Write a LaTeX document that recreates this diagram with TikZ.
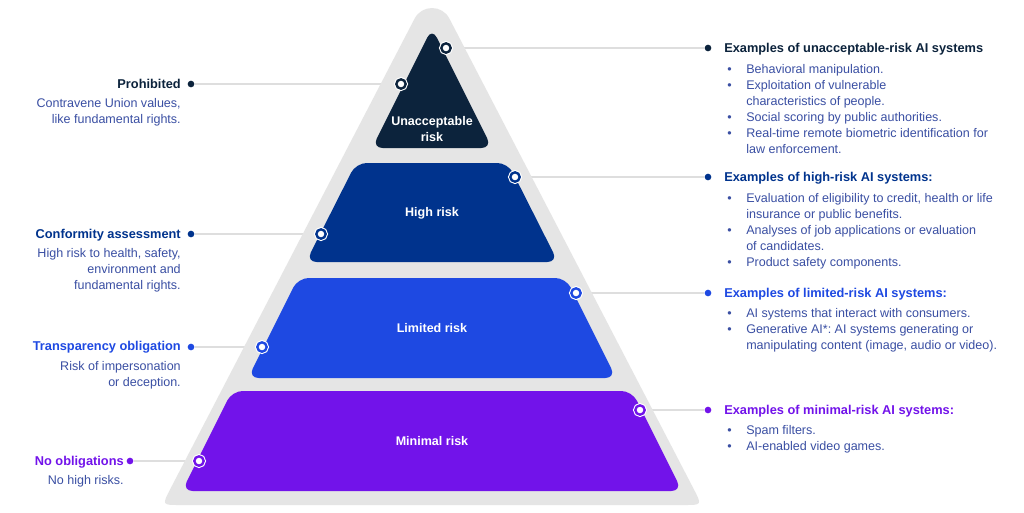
\documentclass[tikz,border=0pt]{standalone}
\usepackage{fontspec}
\setmainfont{Liberation Sans}
\frenchspacing
\pgfdeclarelayer{connl}
\pgfdeclarelayer{shapes}
\pgfsetlayers{connl,shapes,main}
\definecolor{cnavy}{HTML}{0C233C}
\definecolor{cblue}{HTML}{00338D}
\definecolor{clight}{HTML}{1E49E2}
\definecolor{cpurple}{HTML}{7213EA}
\definecolor{cgray}{HTML}{E5E5E5}
\definecolor{cline}{HTML}{DEDEDE}
\definecolor{cbody}{HTML}{3A4FA3}
\begin{document}
\begin{tikzpicture}[x=0.75pt,y=-0.75pt,
  ttl/.style={inner sep=0pt, font=\fontsize{9.6}{12}\selectfont\bfseries, text=#1},
  bdy/.style={inner sep=0pt, font=\fontsize{9.4}{12}\selectfont, text=cbody},
  dotn/.style={circle, inner sep=0pt, minimum size=5pt, fill=#1},
  markr/.style={circle, inner sep=0pt, minimum size=7pt, fill=white, draw=#1, line width=1.8pt, preaction={draw=white, line width=3.4pt}},
  conn/.style={draw=cline, line width=1pt},
  tierlbl/.style={inner sep=0pt, text=white, font=\fontsize{9.4}{12}\selectfont\bfseries, align=center},
  tier/.style={rounded corners=8pt}]
\useasboundingbox (0,0) rectangle (1024,512);
\begin{pgfonlayer}{connl}
\fill[white] (0,0) rectangle (1024,512);
\end{pgfonlayer}

% pyramid
\begin{pgfonlayer}{shapes}
\fill[cgray] (414.6,18.6) .. controls (421.9,4.5) and (442.1,4.5) .. (449.4,18.6)
  -- (693.7,489) .. controls (702,505) .. (684,505)
  -- (180,505) .. controls (162,505) .. (170.3,489) -- cycle;
\fill[cnavy, tier] (432,28) -- (492,148) -- (372,148) -- cycle;
\fill[cblue, tier] (356,163) -- (508,163) -- (558,262) -- (306,262) -- cycle;
\fill[clight, tier] (298,278) -- (566,278) -- (616,378) -- (248,378) -- cycle;
\fill[cpurple, tier] (232,391) -- (632,391) -- (682,491) -- (182,491) -- cycle;
\end{pgfonlayer}

% tier labels
\node[tierlbl] (t1) at (432,129) {Unacceptable\\risk};
\node[tierlbl] (t2) at (432,213) {High risk};
\node[tierlbl] (t3) at (432,328) {Limited risk};
\node[tierlbl] (t4) at (432,441) {Minimal risk};

% markers
\node[markr=cnavy] (rm1) at (446,48) {};
\node[markr=cnavy] (lm1) at (401,84) {};
\node[markr=cblue] (rm2) at (515,177) {};
\node[markr=cblue] (lm2) at (321,234) {};
\node[markr=clight] (rm3) at (576,293) {};
\node[markr=clight] (lm3) at (262,347) {};
\node[markr=cpurple] (rm4) at (640,410) {};
\node[markr=cpurple] (lm4) at (199,461) {};

% left dots and texts
\node[dotn=cnavy] (ld1) at (191,84) {};
\node[dotn=cblue] (ld2) at (191,234) {};
\node[dotn=clight] (ld3) at (191,347) {};
\node[dotn=cpurple] (ld4) at (130,461) {};

\node[ttl=cnavy, anchor=base east] (lt1) at (181,88.3) {Prohibited};
\node[bdy, anchor=north east, align=right] (lb1) at (181,95.8) {\strut Contravene Union values,\\like fundamental rights.};
\node[ttl=cblue, anchor=base east] (lt2) at (181,238.3) {Conformity assessment};
\node[bdy, anchor=north east, align=right] (lb2) at (181,245.8) {\strut High risk to health, safety,\\environment and\\fundamental rights.};
\node[ttl=clight, anchor=base east] (lt3) at (181,350.3) {Transparency obligation};
\node[bdy, anchor=north east, align=right] (lb3) at (181,358.8) {\strut Risk of impersonation\\or deception.};
\node[ttl=cpurple, anchor=base east] (lt4) at (124,465.3) {No obligations};
\node[bdy, anchor=north east, align=right] (lb4) at (124,472.8) {\strut No high risks.};

% right dots and texts
\node[dotn=cnavy] (rd1) at (708,48) {};
\node[dotn=cblue] (rd2) at (708,177) {};
\node[dotn=clight] (rd3) at (708,293) {};
\node[dotn=cpurple] (rd4) at (708,410) {};

\node[ttl=cnavy, anchor=base west] (rt1) at (724,52.3) {Examples of unacceptable-risk AI systems};
\node[bdy, anchor=north west] (rb1) at (727,62) {\begin{tabular}{@{}p{14.25pt}@{}l@{}}
\textbullet & Behavioral manipulation.\\
\textbullet & Exploitation of vulnerable\\
 & characteristics of people.\\
\textbullet & Social scoring by public authorities.\\
\textbullet & Real-time remote biometric identification for\\
 & law enforcement.
\end{tabular}};
\node[ttl=cblue, anchor=base west] (rt2) at (724,181.3) {Examples of high-risk AI systems:};
\node[bdy, anchor=north west] (rb2) at (727,191) {\begin{tabular}{@{}p{14.25pt}@{}l@{}}
\textbullet & Evaluation of eligibility to credit, health or life\\
 & insurance or public benefits.\\
\textbullet & Analyses of job applications or evaluation\\
 & of candidates.\\
\textbullet & Product safety components.
\end{tabular}};
\node[ttl=clight, anchor=base west] (rt3) at (724,297.3) {Examples of limited-risk AI systems:};
\node[bdy, anchor=north west] (rb3) at (727,306) {\begin{tabular}{@{}p{14.25pt}@{}l@{}}
\textbullet & AI systems that interact with consumers.\\
\textbullet & Generative AI*: AI systems generating or\\
 & manipulating content (image, audio or video).
\end{tabular}};
\node[ttl=cpurple, anchor=base west] (rt4) at (724,414.3) {Examples of minimal-risk AI systems:};
\node[bdy, anchor=north west] (rb4) at (727,423) {\begin{tabular}{@{}p{14.25pt}@{}l@{}}
\textbullet & Spam filters.\\
\textbullet & AI-enabled video games.
\end{tabular}};

% connectors
\begin{pgfonlayer}{connl}
\draw[conn] (ld1) -- (lm1);
\draw[conn] (ld2) -- (lm2);
\draw[conn] (ld3) -- (lm3);
\draw[conn] (ld4) -- (lm4);
\draw[conn] (rm1) -- (rd1);
\draw[conn] (rm2) -- (rd2);
\draw[conn] (rm3) -- (rd3);
\draw[conn] (rm4) -- (rd4);
\end{pgfonlayer}
\end{tikzpicture}
\end{document}
